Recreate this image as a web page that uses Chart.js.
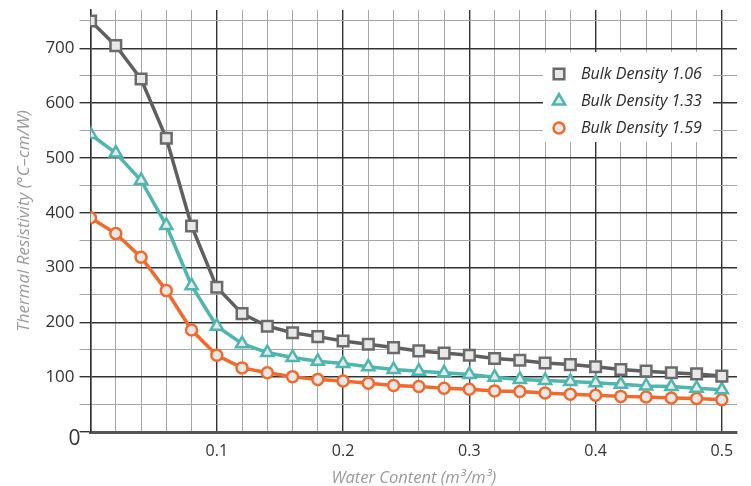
<!DOCTYPE html>
<html>
<head>
<meta charset="utf-8">
<script src="https://cdn.jsdelivr.net/npm/chart.js@4.4.1/dist/chart.umd.min.js"></script>
<style>
  html, body { margin: 0; padding: 0; background: #fff; }
  #wrap { width: 751px; height: 486px; }
</style>
</head>
<body>
<div id="wrap"><canvas id="resistivityChart"></canvas></div>
<script>
const waterContent = [0, 0.02, 0.04, 0.06, 0.08, 0.10, 0.12, 0.14, 0.16, 0.18, 0.20, 0.22, 0.24,
    0.26, 0.28, 0.30, 0.32, 0.34, 0.36, 0.38, 0.40, 0.42, 0.44, 0.46, 0.48, 0.50];
const density106 = [750, 705, 644, 536, 376, 264, 216, 193, 181, 174, 166, 160, 154,
    148, 144, 140, 134, 131, 126, 123, 119, 114, 111, 108, 106, 102];
const density133 = [543, 509, 459, 377, 267, 193, 161, 145, 136, 129, 125, 119, 114,
    111, 108, 105, 100, 96, 94, 92, 90, 87, 84, 83, 80, 77];
const density159 = [391, 362, 319, 258, 186, 140, 117, 108, 101, 96, 93, 89, 85,
    83, 80, 78, 75, 74, 71, 69, 67, 65, 64, 62, 61, 59];
const seriesLabels = ["Bulk Density 1.06", "Bulk Density 1.33", "Bulk Density 1.59"];
const xTickLabels = [0.1, 0.2, 0.3, 0.4, 0.5];
const yTickLabels = [100, 200, 300, 400, 500, 600, 700];

const FONT = "'Open Sans', sans-serif";
const MAJOR = "#333333";
const MINOR = "#a6a6a6";

function pairs(values) {
    return waterContent.map((x, i) => ({ x: x, y: values[i] }));
}

function near(v, list) {
    return list.some(t => Math.abs(v - t) < 1e-6);
}

// legend drawn inside the plot, over a white box
const innerLegend = {
    id: "innerLegend",
    afterDraw(chart) {
        const ctx = chart.ctx;
        const area = chart.chartArea;
        const left = area.right - 194;
        const top = area.top + 42;
        ctx.save();
        ctx.fillStyle = "#fff";
        ctx.fillRect(left, top, 170, 90);
        chart.data.datasets.forEach((ds, i) => {
            const y = top + 22 + i * 27;
            ctx.lineWidth = ds.pointBorderWidth;
            ctx.strokeStyle = ds.pointBorderColor;
            ctx.fillStyle = ds.pointBackgroundColor;
            Chart.helpers.drawPoint(ctx, {
                pointStyle: ds.pointStyle,
                radius: ds.pointRadius,
                borderWidth: ds.pointBorderWidth
            }, left + 16, y);
            ctx.fillStyle = "#2b2b2b";
            ctx.font = "italic 16px " + FONT;
            ctx.textBaseline = "middle";
            ctx.textAlign = "left";
            ctx.fillText(ds.label, left + 38, y);
        });
        // origin label
        const ys = chart.scales.y;
        ctx.fillStyle = "#333";
        ctx.font = "21px " + FONT;
        ctx.textAlign = "right";
        ctx.textBaseline = "middle";
        ctx.fillText("0", area.left - 10, ys.getPixelForValue(0) + 7);
        ctx.restore();
    }
};

const ctx = document.getElementById("resistivityChart").getContext("2d");
new Chart(ctx, {
    type: "line",
    data: {
        datasets: [
            {
                label: seriesLabels[0],
                data: pairs(density106),
                borderColor: "#5f5f5f",
                borderWidth: 3.5,
                pointStyle: "rect",
                pointRadius: 7.5,
                pointBorderWidth: 2.5,
                pointBorderColor: "#6a6a6a",
                pointBackgroundColor: "#e8e8e8"
            },
            {
                label: seriesLabels[1],
                data: pairs(density133),
                borderColor: "#4db6ae",
                borderWidth: 3.5,
                pointStyle: "triangle",
                pointRadius: 7,
                pointBorderWidth: 2.5,
                pointBorderColor: "#4db6ae",
                pointBackgroundColor: "#e8e8e8"
            },
            {
                label: seriesLabels[2],
                data: pairs(density159),
                borderColor: "#f2692c",
                borderWidth: 3.5,
                pointStyle: "circle",
                pointRadius: 5.5,
                pointBorderWidth: 2.5,
                pointBorderColor: "#f2692c",
                pointBackgroundColor: "#e8e8e8"
            }
        ]
    },
    options: {
        responsive: true,
        maintainAspectRatio: false,
        animation: false,
        layout: { padding: { top: 7, right: 14, left: 14, bottom: 0 } },
        plugins: {
            legend: { display: false },
            tooltip: { enabled: false }
        },
        scales: {
            x: {
                type: "linear",
                min: 0,
                max: 0.512,
                grid: {
                    drawTicks: false,
                    color: c => near(c.tick.value, [0, 0.1, 0.2, 0.3, 0.4, 0.5]) ? MAJOR : MINOR,
                    lineWidth: c => near(c.tick.value, [0, 0.1, 0.2, 0.3, 0.4, 0.5]) ? 1.4 : 1
                },
                border: { display: true, color: "#555", width: 3 },
                ticks: {
                    stepSize: 0.02,
                    includeBounds: false,
                    autoSkip: false,
                    maxRotation: 0,
                    padding: 10,
                    color: "#333",
                    font: { family: FONT, size: 16 },
                    callback: v => near(v, xTickLabels) ? String(Math.round(v * 10) / 10) : ""
                },
                title: {
                    display: true,
                    text: "Water Content (m³/m³)",
                    color: "#9a9a9a",
                    font: { family: FONT, size: 16.5, style: "italic" },
                    padding: { top: -3, bottom: -2 }
                }
            },
            y: {
                min: 0,
                max: 770,
                grid: {
                    tickLength: 11,
                    color: c => c.tick.value % 100 === 0 ? MAJOR : MINOR,
                    lineWidth: c => c.tick.value % 100 === 0 ? 1.4 : 1
                },
                border: { display: true, color: MAJOR, width: 1.5 },
                ticks: {
                    stepSize: 50,
                    includeBounds: false,
                    autoSkip: false,
                    padding: 5,
                    color: "#333",
                    font: c => ({ family: FONT, size: c.tick && c.tick.value > 700 ? 1 : 17 }),
                    callback: v => yTickLabels.includes(v) ? String(v) : ""
                },
                title: {
                    display: true,
                    text: "Thermal Resistivity (°C–cm/W)",
                    color: "#9a9a9a",
                    font: { family: FONT, size: 17, style: "italic" },
                    padding: { top: 0, bottom: 6 }
                }
            }
        }
    },
    plugins: [innerLegend]
});
</script>
</body>
</html>
